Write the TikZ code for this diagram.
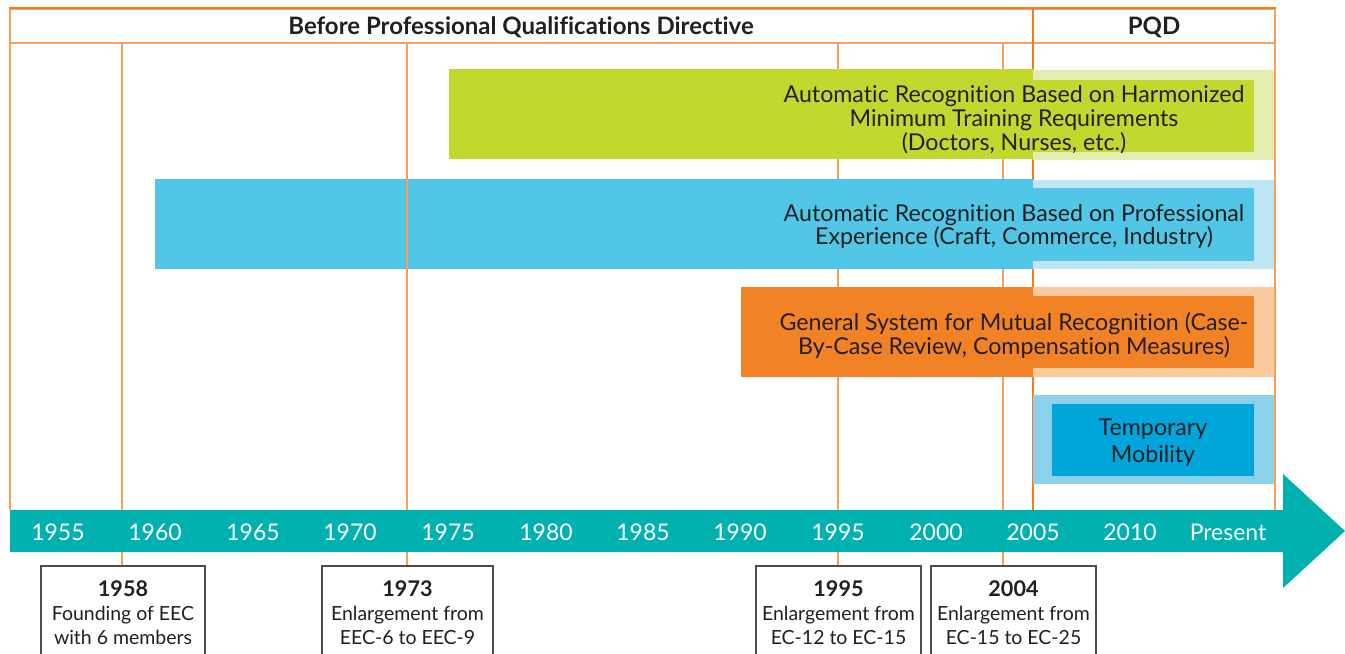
\documentclass[tikz,border=0pt]{standalone}
\usepackage{fontspec}
\setmainfont{Lato}[Ligatures=NoCommon]
\usetikzlibrary{fit}
\definecolor{txt}{HTML}{231F20}
\definecolor{grn}{HTML}{C3D82E}
\definecolor{grnl}{HTML}{E3EDB0}
\definecolor{blu}{HTML}{52C6E7}
\definecolor{blul}{HTML}{BEE5F4}
\definecolor{org}{HTML}{F28226}
\definecolor{orgl}{HTML}{FAC99D}
\definecolor{tmpl}{HTML}{8BD1EC}
\definecolor{tmpd}{HTML}{00A5DB}
\definecolor{teal}{HTML}{00B1B0}
\definecolor{lineor}{HTML}{F7A05C}
\definecolor{keyor}{HTML}{F47B20}
\definecolor{boxgray}{HTML}{4D4D4F}
\newcommand{\yr}[1]{{\fontsize{16.2}{18}\selectfont\bfseries #1}}
\tikzset{
  hline/.style={draw=lineor, line width=1pt},
  keyline/.style={draw=keyor, line width=1.6pt},
  barfill/.style={fit={#1}, inner sep=0pt, draw=none},
  bartext/.style={text=txt, align=center, inner sep=0pt, font=\fontsize{17.4}{17.9}\selectfont},
  yearlab/.style={text=white, inner sep=0pt, font=\fontsize{17.2}{18}\selectfont},
  evbox/.style={fit={#1}, draw=boxgray, line width=1.1pt, inner sep=0pt, fill=white},
  evtext/.style={text=txt, align=center, inner sep=0pt, font=\fontsize{14.6}{18}\selectfont},
  hdrtext/.style={text=txt, inner sep=0pt, font=\fontsize{18}{20}\selectfont\bfseries},
}
\begin{document}
\begin{tikzpicture}[x=0.75pt,y=-0.75pt]
\useasboundingbox (0,0) rectangle (1345,653);
\clip (0,0) rectangle (1345,653);
% header
\node[fit={(10,9)(1033,43)}, inner sep=0pt, draw=lineor, line width=1pt] (hdrA) {};
\node[fit={(1033,9)(1275,43)}, inner sep=0pt, draw=lineor, line width=1pt] (hdrB) {};
\draw[keyline] (hdrA.north west) -- (hdrB.north east);
\node[hdrtext] (hdrAt) at (521,27) {Before Professional Qualifications Directive};
\node[hdrtext] (hdrBt) at (1154,27) {PQD};
% coordinates
\coordinate (lL) at (10,43);
\coordinate (lR) at (1275,9);
\coordinate (lK) at (1033,9);
\coordinate (l1958) at (122,43);
\coordinate (l1973) at (407,43);
\coordinate (l1995) at (838,43);
\coordinate (l2004) at (1003,43);
\coordinate (bL) at (10,510);
\coordinate (bR) at (1275,510);
\coordinate (bK) at (1033,510);
% event boxes
\node[evbox={(41,566)(205,665)}] (b1958) {};
\node[evbox={(322,566)(493,665)}] (b1973) {};
\node[evbox={(756,566)(921,665)}] (b1995) {};
\node[evbox={(931,566)(1096,665)}] (b2004) {};
% frame lines and lines hidden by bars
\draw[hline] (lL) -- (bL);
\draw[hline] (lR) -- (bR);
\draw[hline] (l1995) -- (l1995 |- b1995.north);
\draw[hline] (l2004) -- (l2004 |- b2004.north);
\draw[keyline] (lK) -- (bK);
% bars
\node[barfill={(449,69)(1033,159)}, fill=grn] (g1) {};
\node[barfill={(1033,70)(1274,160)}, fill=grnl] (g2) {};
\node[barfill={(1033,80)(1254,152)}, fill=grn] (g3) {};
\node[bartext] (gt) at (1014,119.5) {Automatic Recognition Based on Harmonized\\Minimum Training Requirements\\(Doctors, Nurses, etc.)};
\node[barfill={(155,179)(1033,269)}, fill=blu] (u1) {};
\node[barfill={(1033,180)(1274,269)}, fill=blul] (u2) {};
\node[barfill={(1033,188)(1254,261)}, fill=blu] (u3) {};
\node[bartext] (ut) at (1014,226.5) {Automatic Recognition Based on Professional\\Experience (Craft, Commerce, Industry)};
\node[barfill={(741,287)(1033,377)}, fill=org] (o1) {};
\node[barfill={(1033,287)(1274,377)}, fill=orgl] (o2) {};
\node[barfill={(1033,296)(1254,368)}, fill=org] (o3) {};
\node[bartext] (ot) at (1014,335.5) {General System for Mutual Recognition (Case-\\By-Case Review, Compensation Measures)};
\node[barfill={(1033,395)(1274,484)}, fill=tmpl] (t1) {};
\node[barfill={(1052,404)(1254,476)}, fill=tmpd] (t2) {};
\node[bartext, font=\fontsize{17.4}{20.2}\selectfont] (tt) at (1153,442.5) {Temporary\\Mobility};
% lines drawn over bars
\draw[hline] (l1958) -- (l1958 |- b1958.north);
\draw[hline] (l1973) -- (l1973 |- b1973.north);
% timeline arrow
\fill[teal] (10,510) -- (1283,510) -- (1283,474) -- (1345,531) -- (1283,588) -- (1283,552) -- (10,552) -- cycle;
\node[yearlab] (y1955) at (58,532) {1955};
\node[yearlab] (y1960) at (155,532) {1960};
\node[yearlab] (y1965) at (253,532) {1965};
\node[yearlab] (y1970) at (350,532) {1970};
\node[yearlab] (y1975) at (448,532) {1975};
\node[yearlab] (y1980) at (546,532) {1980};
\node[yearlab] (y1985) at (643,532) {1985};
\node[yearlab] (y1990) at (740,532) {1990};
\node[yearlab] (y1995) at (838,532) {1995};
\node[yearlab] (y2000) at (936,532) {2000};
\node[yearlab] (y2005) at (1033,532) {2005};
\node[yearlab] (y2010) at (1130,532) {2010};
\node[yearlab] (ypres) at (1228,532) {Present};
% event texts
\node[evtext] (e1958) at (123,613) {\yr{1958}\\Founding of EEC\\with 6 members};
\node[evtext] (e1973) at (407.5,613) {\yr{1973}\\Enlargement from\\EEC-6 to EEC-9};
\node[evtext] (e1995) at (838.5,613) {\yr{1995}\\Enlargement from\\EC-12 to EC-15};
\node[evtext] (e2004) at (1013.5,613) {\yr{2004}\\Enlargement from\\EC-15 to EC-25};
\end{tikzpicture}
\end{document}
